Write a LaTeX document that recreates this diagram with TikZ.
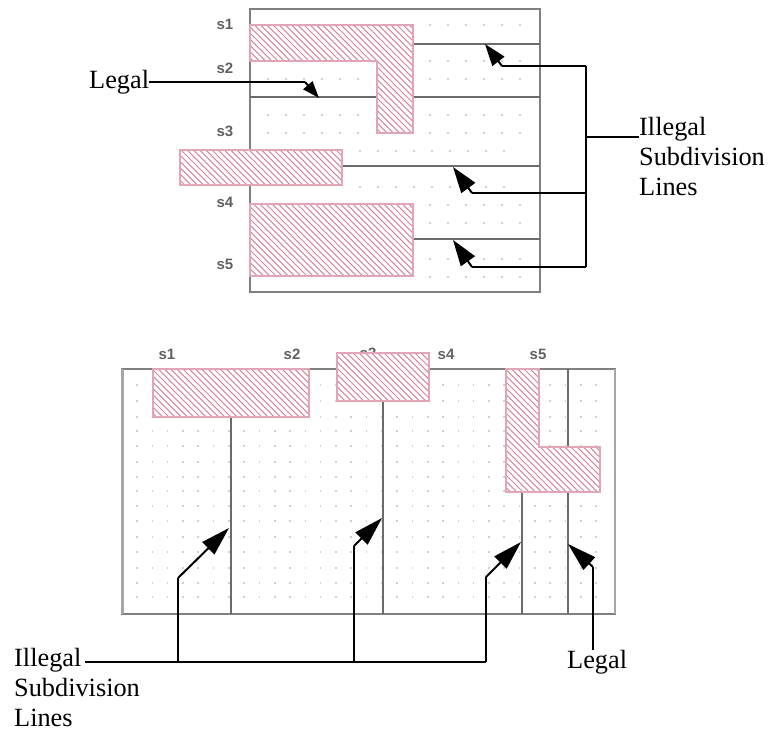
\documentclass[tikz,border=0pt]{standalone}
\usepackage{fontspec}
\setmainfont{Liberation Serif}
\newfontfamily\smallsans{Liberation Sans}
\usetikzlibrary{arrows.meta}
\definecolor{hatchpink}{RGB}{214,135,155}
\definecolor{edgepink}{RGB}{225,165,180}
\tikzset{
  x=1pt,y=-1pt,
  frameline/.style={draw=black!50,line width=1.6pt},
  subline/.style={draw=black!58,line width=1.4pt},
  pointer/.style={draw=black,line width=2pt},
  arrowline/.style={pointer,-{Triangle[length=#1pt,width=17pt]}},
  arrowline/.default=29,
  smallarrow/.style={pointer,-{Triangle[length=17pt,width=12pt]}},
  midarrow/.style={pointer,-{Triangle[length=22pt,width=15pt]}},
  lbl/.style={inner sep=0pt,font=\fontsize{26.3}{30}\selectfont,align=left},
  slabel/.style={inner sep=0pt,text=black!62,font=\smallsans\bfseries\fontsize{15}{15}\selectfont},
  griddot/.style={fill=black!18},
}
\newcommand{\hatched}[1]{%
  \fill[white] #1;
  \begin{scope}
    \clip #1;
    \foreach \k in {-60,...,110} {
      \draw[hatchpink,line width=1pt] (\k*6.2,0) -- ++(700,700);
    }
  \end{scope}
  \draw[edgepink,line width=1.6pt] #1;
}
\newcommand{\griddots}[2]{%
  \foreach \yy in {#2} \foreach \xx in {#1}
    \fill[griddot] (\xx-0.8,\yy-0.8) rectangle (\xx+0.8,\yy+0.8);
}
\begin{document}
\begin{tikzpicture}
\useasboundingbox (0,0) rectangle (769,731);
% ---------- top diagram ----------
\griddots{430,448,...,520}{25,61,79,115,133,205,223,259,277}
\griddots{268,286,...,358}{79,115,133}
\griddots{360,378,...,520}{151,187}
\draw[frameline] (250,9) rectangle (540,292);
\draw[subline] (413,44) -- (540,44);
\draw[subline] (250,97) -- (540,97);
\draw[subline] (342,166) -- (540,166);
\draw[subline] (413,239) -- (540,239);
\node[slabel] (ta) at (225,24) {s1};
\node[slabel] (tb) at (225,68) {s2};
\node[slabel] (tc) at (225,131) {s3};
\node[slabel] (td) at (225,202) {s4};
\node[slabel] (te) at (225,264) {s5};
\hatched{(250,25) -- (413,25) -- (413,133) -- (377,133) -- (377,61) -- (250,61) -- cycle}
\hatched{(180,150) -- (342,150) -- (342,185) -- (180,185) -- cycle}
\hatched{(250,204) -- (413,204) -- (413,276) -- (250,276) -- cycle}
% labels
\node[lbl,anchor=base west] (legalA) at (89,88) {Legal};
\node[lbl,anchor=north west] (illegalA) at (639,117) {Illegal\\Subdivision\\Lines};
\node[lbl,anchor=north west] (illegalB) at (14,648) {Illegal\\Subdivision\\Lines};
\node[lbl,anchor=base west] (legalB) at (567,668) {Legal};
% top pointers
\coordinate (la) at (305,82);
\coordinate (lt) at (319,98);
\draw[pointer] (legalA.east |- la) -- (la);
\draw[smallarrow] (la) -- (lt);
\coordinate (tr) at (586,66);
\coordinate (trm) at (586,137);
\coordinate (trb) at (586,193);
\coordinate (trc) at (586,267);
\draw[pointer] (tr) -- (trc);
\draw[pointer] (trm) -- (illegalA.west |- trm);
\coordinate (b1) at (502,66);
\coordinate (t1) at (485,44);
\coordinate (b2) at (472,193);
\coordinate (t2) at (453,167);
\coordinate (b3) at (472,267);
\coordinate (t3) at (453,240);
\draw[pointer] (tr) -- (b1);
\draw[midarrow] (b1) -- (t1);
\draw[pointer] (trb) -- (b2);
\draw[arrowline=26] (b2) -- (t2);
\draw[pointer] (trc) -- (b3);
\draw[arrowline=26] (b3) -- (t3);
% ---------- bottom diagram ----------
\griddots{137,152.3,...,600}{385,401,417,431,446,462,477,491,506,521,537,552,568,583,597}
\node[slabel] (ba) at (167,354) {s1};
\node[slabel] (bb) at (292,354) {s2};
\node[slabel] (bc) at (368,353) {s3};
\node[slabel] (bd) at (446,354) {s4};
\node[slabel] (be) at (538,354) {s5};
\draw[frameline] (122,369) rectangle (615,614);
\draw[draw=black!35,line width=3pt] (122,369) -- (122,614);
\draw[draw=black!35,line width=2.4pt] (615,369) -- (615,614);
\draw[subline] (231,417) -- (231,614);
\draw[subline] (383,401) -- (383,614);
\draw[subline] (522,492) -- (522,614);
\draw[subline] (568,369) -- (568,614);
\hatched{(153,369) -- (309,369) -- (309,417) -- (153,417) -- cycle}
\hatched{(337,353) -- (429,353) -- (429,401) -- (337,401) -- cycle}
\hatched{(506,369) -- (539,369) -- (539,447) -- (600,447) -- (600,492) -- (506,492) -- cycle}
% bottom pointers
\coordinate (h0) at (85,662);
\coordinate (h1) at (178,662);
\coordinate (h2) at (354,662);
\coordinate (h3) at (486,662);
\draw[pointer] (h0) -- (h3);
\coordinate (k1) at (178,578);
\coordinate (p1) at (229,528);
\coordinate (k2) at (354,546);
\coordinate (p2) at (382,518);
\coordinate (k3) at (486,577);
\coordinate (p3) at (521,542);
\coordinate (k4) at (593,567);
\coordinate (p4) at (568,544);
\draw[pointer] (h1) -- (k1);
\draw[arrowline] (k1) -- (p1);
\draw[pointer] (h2) -- (k2);
\draw[arrowline] (k2) -- (p2);
\draw[pointer] (h3) -- (k3);
\draw[arrowline] (k3) -- (p3);
\draw[pointer] (legalB.north -| k4) -- (k4);
\draw[arrowline] (k4) -- (p4);
\end{tikzpicture}
\end{document}
